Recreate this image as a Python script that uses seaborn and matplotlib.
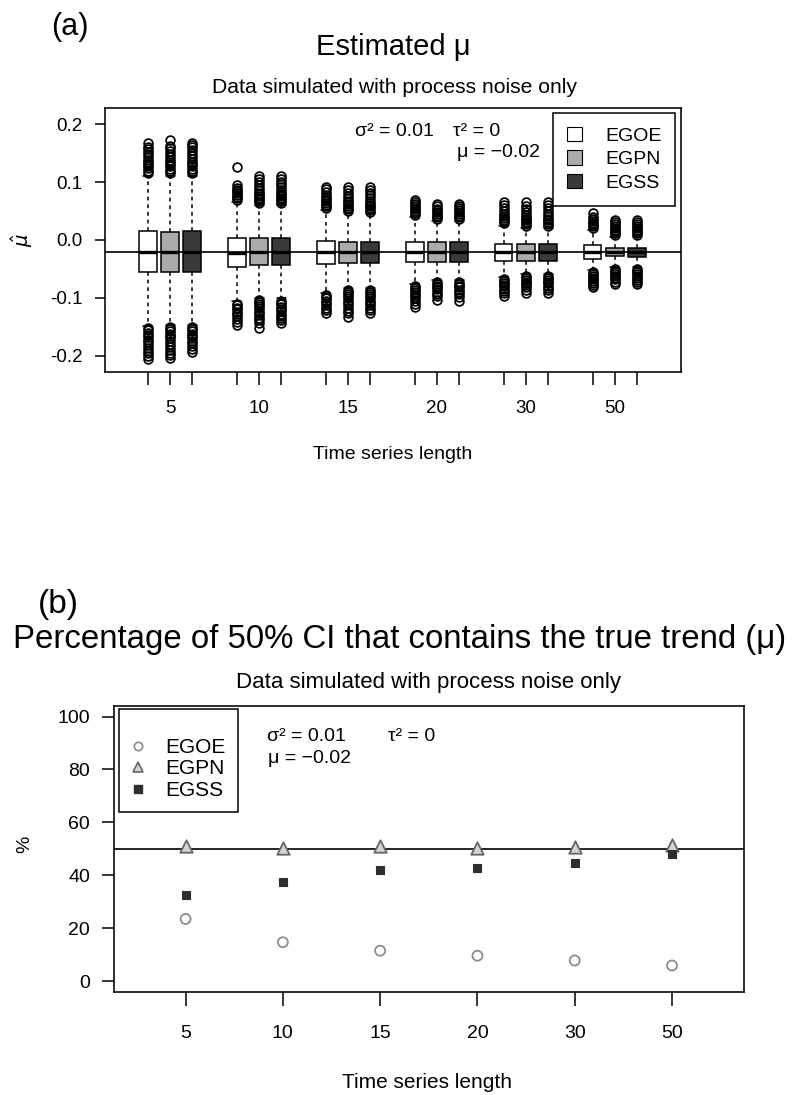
import numpy as np
import matplotlib
matplotlib.use("Agg")
import matplotlib.pyplot as plt
from matplotlib.patches import Patch
from matplotlib.lines import Line2D
import seaborn as sns

# ---------------------------------------------------------------- data
lengths = [5, 10, 15, 20, 30, 50]
methods = ["EGOE", "EGPN", "EGSS"]
true_mu = -0.02
nominal_pct = 50

# (a) box summaries of the estimated trend, one entry per series length
egoe_q1 = [-0.056, -0.046, -0.041, -0.038, -0.036, -0.032]
egoe_med = [-0.021, -0.022, -0.021, -0.021, -0.021, -0.020]
egoe_q3 = [0.015, 0.003, -0.002, -0.003, -0.007, -0.009]
egoe_whislo = [-0.148, -0.106, -0.091, -0.076, -0.064, -0.052]
egoe_whishi = [0.111, 0.065, 0.051, 0.040, 0.025, 0.017]

egpn_q1 = [-0.056, -0.044, -0.040, -0.038, -0.036, -0.0285]
egpn_med = [-0.021, -0.021, -0.021, -0.021, -0.021, -0.021]
egpn_q3 = [0.013, 0.003, -0.003, -0.004, -0.007, -0.0135]
egpn_whislo = [-0.146, -0.100, -0.083, -0.069, -0.059, -0.046]
egpn_whishi = [0.111, 0.060, 0.046, 0.032, 0.021, 0.005]

egss_q1 = [-0.056, -0.044, -0.039, -0.038, -0.036, -0.029]
egss_med = [-0.021, -0.021, -0.021, -0.021, -0.021, -0.021]
egss_q3 = [0.015, 0.003, -0.004, -0.004, -0.007, -0.013]
egss_whislo = [-0.146, -0.101, -0.083, -0.069, -0.059, -0.046]
egss_whishi = [0.111, 0.060, 0.045, 0.032, 0.021, 0.005]

# outlying estimates above / below the whiskers
egoe_out_hi = [
    [0.116, 0.12, 0.124, 0.128, 0.131, 0.135, 0.139, 0.143, 0.148, 0.152, 0.157, 0.161, 0.167],
    [0.069, 0.072, 0.075, 0.078, 0.081, 0.084, 0.087, 0.09, 0.095, 0.126],
    [0.055, 0.058, 0.061, 0.064, 0.067, 0.07, 0.074, 0.078, 0.083, 0.088, 0.092],
    [0.044, 0.047, 0.05, 0.053, 0.056, 0.059, 0.062, 0.065, 0.069],
    [0.029, 0.032, 0.035, 0.038, 0.041, 0.045, 0.05, 0.055, 0.061, 0.066],
    [0.021, 0.024, 0.027, 0.03, 0.033, 0.036, 0.04, 0.047],
]
egoe_out_lo = [
    [-0.152, -0.156, -0.16, -0.164, -0.168, -0.172, -0.176, -0.181, -0.186, -0.191, -0.196, -0.201, -0.206],
    [-0.11, -0.113, -0.117, -0.12, -0.124, -0.128, -0.132, -0.137, -0.142, -0.147],
    [-0.095, -0.098, -0.101, -0.105, -0.109, -0.113, -0.117, -0.121, -0.126],
    [-0.08, -0.083, -0.086, -0.089, -0.093, -0.097, -0.101, -0.106, -0.111, -0.116],
    [-0.068, -0.071, -0.074, -0.077, -0.08, -0.084, -0.088, -0.092, -0.096],
    [-0.056, -0.059, -0.062, -0.065, -0.068, -0.071, -0.075, -0.078, -0.081],
]
egpn_out_hi = [
    [0.115, 0.119, 0.123, 0.127, 0.131, 0.135, 0.139, 0.144, 0.149, 0.154, 0.159, 0.163, 0.173],
    [0.064, 0.067, 0.07, 0.073, 0.076, 0.079, 0.082, 0.086, 0.09, 0.095, 0.101, 0.106, 0.11],
    [0.05, 0.053, 0.056, 0.059, 0.062, 0.065, 0.068, 0.072, 0.076, 0.081, 0.086, 0.092],
    [0.036, 0.039, 0.042, 0.045, 0.048, 0.051, 0.054, 0.058, 0.062],
    [0.025, 0.028, 0.031, 0.034, 0.037, 0.04, 0.044, 0.048, 0.053, 0.059, 0.066],
    [0.009, 0.012, 0.015, 0.018, 0.021, 0.024, 0.027, 0.031, 0.035],
]
egpn_out_lo = [
    [-0.15, -0.154, -0.158, -0.162, -0.166, -0.17, -0.175, -0.18, -0.185, -0.19, -0.195, -0.199, -0.203],
    [-0.104, -0.107, -0.11, -0.114, -0.118, -0.122, -0.126, -0.13, -0.134, -0.139, -0.143, -0.152],
    [-0.087, -0.09, -0.093, -0.097, -0.101, -0.105, -0.109, -0.113, -0.118, -0.122, -0.126, -0.133],
    [-0.073, -0.076, -0.079, -0.082, -0.085, -0.089, -0.093, -0.097, -0.103],
    [-0.063, -0.066, -0.069, -0.072, -0.075, -0.078, -0.082, -0.086, -0.092],
    [-0.05, -0.053, -0.056, -0.059, -0.062, -0.065, -0.068, -0.072, -0.076],
]
egss_out_hi = [
    [0.115, 0.119, 0.123, 0.127, 0.131, 0.135, 0.14, 0.145, 0.15, 0.155, 0.16, 0.164, 0.168],
    [0.064, 0.067, 0.07, 0.073, 0.076, 0.079, 0.083, 0.087, 0.091, 0.096, 0.101, 0.106, 0.11],
    [0.049, 0.052, 0.055, 0.058, 0.061, 0.064, 0.068, 0.072, 0.077, 0.082, 0.087, 0.092],
    [0.036, 0.039, 0.042, 0.045, 0.048, 0.051, 0.055, 0.058, 0.062],
    [0.025, 0.028, 0.031, 0.034, 0.037, 0.041, 0.045, 0.05, 0.055, 0.06, 0.066],
    [0.009, 0.012, 0.015, 0.018, 0.021, 0.024, 0.028, 0.031, 0.035],
]
egss_out_lo = [
    [-0.15, -0.154, -0.158, -0.162, -0.166, -0.17, -0.174, -0.178, -0.183, -0.188, -0.193],
    [-0.105, -0.108, -0.111, -0.115, -0.119, -0.123, -0.127, -0.131, -0.135, -0.139, -0.143],
    [-0.087, -0.09, -0.093, -0.097, -0.101, -0.105, -0.109, -0.113, -0.117, -0.121, -0.126],
    [-0.073, -0.076, -0.079, -0.082, -0.086, -0.09, -0.094, -0.099, -0.105],
    [-0.063, -0.066, -0.069, -0.072, -0.075, -0.079, -0.083, -0.087, -0.092],
    [-0.05, -0.053, -0.056, -0.059, -0.062, -0.065, -0.069, -0.072, -0.076],
]

# (b) coverage of the 50% confidence interval (%)
pct_egoe = [23.5, 14.7, 11.5, 9.6, 7.8, 5.9]
pct_egpn = [51.1, 50.4, 51.1, 50.4, 50.8, 51.3]
pct_egss = [32.6, 37.3, 41.9, 42.7, 44.8, 47.9]

mu_ticks = [-0.2, -0.1, 0.0, 0.1, 0.2]
pct_ticks = [0, 20, 40, 60, 80, 100]

# ---------------------------------------------------------------- style
sns.set_theme(style="ticks")
plt.rcParams["font.family"] = ["Liberation Sans", "DejaVu Sans"]
plt.rcParams["text.color"] = "black"
plt.rcParams["axes.labelcolor"] = "black"
plt.rcParams["axes.edgecolor"] = "black"
plt.rcParams["axes.linewidth"] = 1.15
plt.rcParams["xtick.color"] = "black"
plt.rcParams["ytick.color"] = "black"
plt.rcParams["xtick.labelcolor"] = "black"
plt.rcParams["ytick.labelcolor"] = "black"

box_fill = {"EGOE": "white", "EGPN": "#ababab", "EGSS": "#3a3a3a"}

W, H = 792, 1095
fig = plt.figure(figsize=(W / 100, H / 100), dpi=100)
fig.patch.set_facecolor("white")


def fx(px):
    return px / W


def fy(py):
    return 1 - py / H


# ---------------------------------------------------------------- panel (a)
ax1 = fig.add_axes([fx(105), fy(372), fx(576), 264 / H])

summaries = {
    "EGOE": (egoe_q1, egoe_med, egoe_q3, egoe_whislo, egoe_whishi, egoe_out_hi, egoe_out_lo),
    "EGPN": (egpn_q1, egpn_med, egpn_q3, egpn_whislo, egpn_whishi, egpn_out_hi, egpn_out_lo),
    "EGSS": (egss_q1, egss_med, egss_q3, egss_whislo, egss_whishi, egss_out_hi, egss_out_lo),
}

all_pos = []
all_lab = []
for i, n in enumerate(lengths):
    for j in range(len(methods)):
        all_pos.append(1 + 4 * i + j)
        all_lab.append(str(n) if j == 1 else "")

for j, m in enumerate(methods):
    q1, med, q3, wlo, whi, ohi, olo = summaries[m]
    stats = []
    for i in range(len(lengths)):
        stats.append(dict(q1=q1[i], med=med[i], q3=q3[i], whislo=wlo[i],
                          whishi=whi[i], fliers=np.array(ohi[i] + olo[i])))
    pos = [1 + 4 * i + j for i in range(len(lengths))]
    ax1.bxp(stats, positions=pos, widths=0.8, patch_artist=True,
            manage_ticks=False,
            boxprops=dict(facecolor=box_fill[m], edgecolor="black", linewidth=1.1),
            whiskerprops=dict(color="black", linewidth=1.1, linestyle=(0, (2.5, 2.5))),
            capprops=dict(color="black", linewidth=1.1),
            medianprops=dict(color="black", linewidth=2.4),
            flierprops=dict(marker="o", markerfacecolor="none", markeredgecolor="black",
                            markersize=6.3, markeredgewidth=1.25))

ax1.axhline(true_mu, color="black", linewidth=1.2, zorder=5)
ax1.set_xlim(-0.93, 24.98)
ax1.set_ylim(-0.228, 0.228)
ax1.set_xticks(all_pos)
ax1.set_xticklabels(all_lab)
ax1.set_yticks(mu_ticks)
ax1.set_yticklabels([f"{v:.1f}" for v in mu_ticks])
ax1.tick_params(axis="x", direction="out", length=9, width=1.1, pad=11, labelsize=13.5)
ax1.tick_params(axis="y", direction="out", length=7, width=1.1, pad=9, labelsize=13.5)
for s in ax1.spines.values():
    s.set_visible(True)
    s.set_color("black")

leg_a = ax1.legend(
    handles=[Patch(facecolor=box_fill[m], edgecolor="black", linewidth=0.8, label=m) for m in methods],
    loc="upper right", bbox_to_anchor=(0.9896, 0.981), borderaxespad=0,
    frameon=True, fancybox=False, edgecolor="black", framealpha=1, fontsize=14,
    handlelength=0.75, handleheight=0.75, handletextpad=1.2, labelspacing=0.3,
    borderpad=0.7)
leg_a.get_frame().set_linewidth(1.1)

# ---------------------------------------------------------------- panel (b)
ax2 = fig.add_axes([fx(113.6), fy(991.7), fx(630.4), 285.7 / H])
xs = np.arange(1, len(lengths) + 1)

ax2.axhline(nominal_pct, color="black", linewidth=1.2, zorder=2)
sns.scatterplot(x=xs, y=pct_egoe, marker="o", s=52, facecolor="none",
                edgecolor="#8c8c8c", linewidth=1.3, ax=ax2, zorder=3)
sns.scatterplot(x=xs, y=pct_egpn, marker="^", s=80, facecolor="#d4d4d4",
                edgecolor="#666666", linewidth=1.3, ax=ax2, zorder=3)
sns.scatterplot(x=xs, y=pct_egss, marker="s", s=40, color="#2e2e2e",
                edgecolor="#2e2e2e", linewidth=0.8, ax=ax2, zorder=4)

ax2.set_xlim(0.26, 6.74)
ax2.set_ylim(-4, 104)
ax2.set_xticks(xs)
ax2.set_xticklabels([str(n) for n in lengths])
ax2.set_yticks(pct_ticks)
ax2.set_yticklabels([str(v) for v in pct_ticks])
ax2.set_xlabel("")
ax2.set_ylabel("")
ax2.tick_params(axis="x", direction="out", length=10, width=1.1, pad=14, labelsize=14)
ax2.tick_params(axis="y", direction="out", length=9, width=1.1, pad=8, labelsize=14)
for s in ax2.spines.values():
    s.set_visible(True)
    s.set_color("black")

leg_b = ax2.legend(
    handles=[
        Line2D([], [], linestyle="none", marker="o", markersize=6.0, markerfacecolor="none",
               markeredgecolor="#8c8c8c", markeredgewidth=1.2, label="EGOE"),
        Line2D([], [], linestyle="none", marker="^", markersize=7.0, markerfacecolor="#d4d4d4",
               markeredgecolor="#666666", markeredgewidth=1.2, label="EGPN"),
        Line2D([], [], linestyle="none", marker="s", markersize=5.2, markerfacecolor="#2e2e2e",
               markeredgecolor="#2e2e2e", label="EGSS"),
    ],
    loc="upper left", bbox_to_anchor=(0.0086, 0.9895), borderaxespad=0,
    frameon=True, fancybox=False, edgecolor="black", framealpha=1, fontsize=15,
    handlelength=0.6, handletextpad=1.0, labelspacing=0.12, borderpad=0.6,
    title=" ", title_fontsize=10)
leg_b.get_frame().set_linewidth(1.1)

# ---------------------------------------------------------------- text
fig.text(fx(51), fy(27), "(a)", fontsize=22, ha="left", va="center")
fig.text(fx(393), fy(55), "Estimated μ", fontsize=21, ha="center", va="baseline")
fig.text(fx(395), fy(93), "Data simulated with process noise only", fontsize=15.2,
         ha="center", va="baseline")
fig.text(fx(393), fy(459), "Time series length", fontsize=14, ha="center", va="baseline")
fig.text(fx(22), fy(240), r"$\hat{\mu}$", fontsize=14, rotation=90, ha="center", va="center")
fig.text(fx(355), fy(136), "σ² = 0.01", fontsize=14, ha="left", va="baseline")
fig.text(fx(453), fy(136), "τ² = 0", fontsize=14, ha="left", va="baseline")
fig.text(fx(457), fy(157), "μ = −0.02", fontsize=14, ha="left", va="baseline")

fig.text(fx(38), fy(604), "(b)", fontsize=24, ha="left", va="center")
fig.text(fx(13), fy(648), "Percentage of 50% CI that contains the true trend (μ)",
         fontsize=23.8, ha="left", va="baseline")
fig.text(fx(429), fy(688), "Data simulated with process noise only", fontsize=16,
         ha="center", va="baseline")
fig.text(fx(427), fy(1088), "Time series length", fontsize=15, ha="center", va="baseline")
fig.text(fx(25), fy(844), "%", fontsize=14, rotation=90, ha="center", va="center")
fig.text(fx(267), fy(741), "σ² = 0.01", fontsize=14, ha="left", va="baseline")
fig.text(fx(388), fy(741), "τ² = 0", fontsize=14, ha="left", va="baseline")
fig.text(fx(268), fy(763), "μ = −0.02", fontsize=14, ha="left", va="baseline")

fig.savefig("out.png", dpi=100, facecolor="white")
